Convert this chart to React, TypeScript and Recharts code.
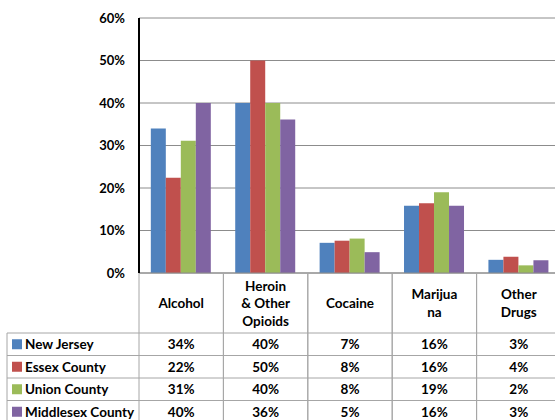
import { BarChart, Bar, XAxis, YAxis, CartesianGrid } from 'recharts';

const categories = ['Alcohol', 'Heroin & Other Opioids', 'Cocaine', 'Marijuana', 'Other Drugs'];
const headerLines = [['Alcohol'], ['Heroin', '& Other', 'Opioids'], ['Cocaine'], ['Marijua', 'na'], ['Other', 'Drugs']];

const seriesNames = ['New Jersey', 'Essex County', 'Union County', 'Middlesex County'];
const seriesKeys = ['nj', 'essex', 'union', 'middlesex'];
const seriesColors = ['#4F81BD', '#C0504D', '#9BBB59', '#8064A2'];

const newJersey = [34, 40, 7.1, 15.8, 3.1];
const essexCounty = [22.4, 50, 7.6, 16.4, 3.8];
const unionCounty = [31.1, 40, 8.1, 19, 1.8];
const middlesexCounty = [40, 36.1, 4.9, 15.8, 3];

const yTicks = [0, 10, 20, 30, 40, 50, 60];

const seriesValues = [newJersey, essexCounty, unionCounty, middlesexCounty];

const data = categories.map((name, i) => ({
  name,
  nj: newJersey[i],
  essex: essexCounty[i],
  union: unionCounty[i],
  middlesex: middlesexCounty[i],
}));

const FONT = 'Lato, "Noto Sans", sans-serif';
const CHART_W = 561;
const CHART_H = 420;
const LEFT = 139;
const BAND = (CHART_W - LEFT) / categories.length;
const HEADER_H = 60;
const ROW_H = 22.5;
const TABLE_LEFT = 7;
const LINE = '#a6a6a6';

// draws one column of the data table under each category
function TableColumn(props: any) {
  const { x, y, payload, index } = props;
  const i = index ?? payload.index;
  const left = x - BAND / 2;
  const right = x + BAND / 2;
  const lines = headerLines[i];
  const headerMid = y + HEADER_H / 2;
  const bottom = y + HEADER_H + ROW_H * seriesNames.length;
  return (
    <g fontFamily={FONT} fontWeight="bold" fontSize={13.5} fill="#000">
      {i === 0 && (
        <g>
          {seriesNames.map((_, r) => (
            <line key={'h' + r} x1={TABLE_LEFT} x2={CHART_W} y1={y + HEADER_H + ROW_H * r} y2={y + HEADER_H + ROW_H * r} stroke={LINE} />
          ))}
          <line x1={TABLE_LEFT} x2={TABLE_LEFT} y1={y + HEADER_H} y2={bottom} stroke={LINE} />
          {seriesNames.map((name, r) => {
            const cy = y + HEADER_H + ROW_H * r + ROW_H / 2;
            return (
              <g key={name}>
                <rect x={TABLE_LEFT + 5} y={cy - 5} width={10} height={10} fill={seriesColors[r]} />
                <text x={TABLE_LEFT + 18} y={cy} dominantBaseline="central" textAnchor="start" fill="#000">
                  {name}
                </text>
              </g>
            );
          })}
        </g>
      )}
      <line x1={left} x2={left} y1={y} y2={bottom} stroke={LINE} />
      <line x1={right} x2={right} y1={y} y2={bottom} stroke={LINE} />
      {lines.map((t, k) => (
        <text
          key={t}
          x={x}
          y={headerMid + (k - (lines.length - 1) / 2) * 17.5}
          textAnchor="middle"
          dominantBaseline="central"
          fill="#000"
        >
          {t}
        </text>
      ))}
      {seriesValues.map((vals, r) => (
        <text
          key={seriesKeys[r]}
          x={x}
          y={y + HEADER_H + ROW_H * r + ROW_H / 2}
          textAnchor="middle"
          dominantBaseline="central"
          fill="#000"
        >
          {Math.round(vals[i])}%
        </text>
      ))}
    </g>
  );
}

export default function App() {
  return (
    <div style={{ position: 'absolute', left: 0, top: 0, width: 555, height: 420, overflow: 'hidden', background: '#fff' }}>
      <BarChart
        width={CHART_W}
        height={CHART_H}
        data={data}
        margin={{ top: 18, right: 0, bottom: 0, left: 0 }}
        barCategoryGap="14%"
        barGap={0}
      >
        <CartesianGrid vertical={false} stroke="#8c8c8c" />
        <XAxis
          dataKey="name"
          height={CHART_H - 273}
          tickLine={false}
          tickSize={0}
          tickMargin={0}
          axisLine={{ stroke: '#8c8c8c' }}
          interval={0}
          tick={(p: any) => <TableColumn {...p} />}
        />
        <YAxis
          width={LEFT}
          domain={[0, 60]}
          ticks={yTicks}
          tickFormatter={(v: number) => `${v}%`}
          tickLine={false}
          tickSize={0}
          tickMargin={14}
          axisLine={{ stroke: '#000', strokeWidth: 2 }}
          tick={{ fontFamily: FONT, fontWeight: 'bold', fontSize: 13, fill: '#000' }}
        />
        {seriesKeys.map((k, i) => (
          <Bar key={k} dataKey={k} name={seriesNames[i]} fill={seriesColors[i]} isAnimationActive={false} />
        ))}
      </BarChart>
    </div>
  );
}
